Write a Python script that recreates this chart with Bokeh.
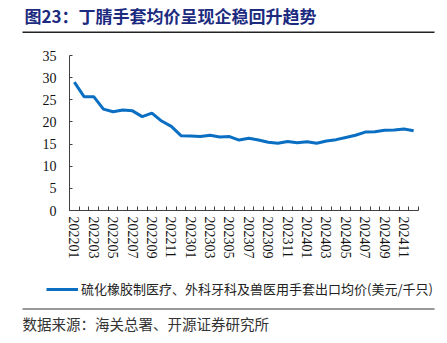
from bokeh.plotting import figure
from bokeh.layouts import column
from bokeh.models import (ColumnDataSource, FixedTicker, Range1d, Legend, LegendItem,
                          BoxAnnotation)
from bokeh.core.properties import value
from bokeh.embed import file_html
from bokeh.resources import INLINE

months = ["202201", "202202", "202203", "202204", "202205", "202206", "202207", "202208",
          "202209", "202210", "202211", "202212", "202301", "202302", "202303", "202304",
          "202305", "202306", "202307", "202308", "202309", "202310", "202311", "202312",
          "202401", "202402", "202403", "202404", "202405", "202406", "202407", "202408",
          "202409", "202410", "202411", "202412"]
price = [29.0, 25.7, 25.7, 22.9, 22.3, 22.7, 22.5, 21.2, 22.0, 20.2, 19.0, 16.9,
         16.8, 16.7, 17.0, 16.6, 16.7, 15.9, 16.3, 15.9, 15.4, 15.2, 15.6, 15.3,
         15.5, 15.2, 15.7, 16.0, 16.5, 17.0, 17.7, 17.8, 18.1, 18.2, 18.4, 18.0]
y_ticks = [0, 5, 10, 15, 20, 25, 30, 35]
series_name = "硫化橡胶制医疗、外科牙科及兽医用手套出口均价(美元/千只)"
title_text = "图23：丁腈手套均价呈现企稳回升趋势"
source_text = "数据来源：海关总署、开源证券研究所"

LINE_COLOR = "#0A6FC2"
serif = "Liberation Serif"
cjk = "Noto Sans CJK SC"
W = 447


def blank_fig(h):
    f = figure(width=W, height=h, output_backend="svg", toolbar_location=None,
               x_range=Range1d(0, W), y_range=Range1d(0, h),
               x_axis_type=None, y_axis_type=None,
               min_border=0, min_border_left=0, min_border_right=0,
               min_border_top=0, min_border_bottom=0, frame_align=False)
    f.outline_line_color = None
    f.grid.visible = False
    return f


def rule(fig, x0, x1, y0, y1, color):
    fig.add_layout(BoxAnnotation(left=x0, right=x1, bottom=y0, top=y1,
                                 fill_color=color, fill_alpha=1.0,
                                 line_color=None, level="overlay"))


# ---------- header (y measured upward from its bottom) ----------
HT = 40
ph = blank_fig(HT)
ph.text(x=[24], y=[HT - 14.5], text=[title_text], text_font=value(cjk), text_font_size="17px",
        text_font_style="bold", text_color="#1C2B80", text_baseline="middle",
        text_align="left")
rule(ph, 22, 434, HT - 32.5, HT - 31, "#222222")

# ---------- main chart ----------
HM = 240
left, right, top, bottom = 69, 418, 55 - HT, 210 - HT
idx = list(range(len(months)))
src = ColumnDataSource(data=dict(x=idx, y=price))

p = figure(width=W, height=HM, output_backend="svg", toolbar_location=None,
           x_range=Range1d(-0.5, len(months) - 0.5), y_range=Range1d(0, 35),
           min_border_left=left, min_border_right=W - right,
           min_border_top=top, min_border_bottom=HM - bottom, frame_align=False)
p.outline_line_color = None
p.grid.visible = False

r = p.line("x", "y", source=src, line_color=LINE_COLOR, line_width=3)

xa = p.xaxis[0]
xa.ticker = FixedTicker(ticks=idx[::2], minor_ticks=[i - 0.5 for i in range(len(months) + 1)])
xa.major_label_overrides = {i: months[i] for i in idx}
xa.major_label_orientation = "vertical"
xa.major_tick_in = 0
xa.major_tick_out = 0
xa.minor_tick_in = 4
xa.minor_tick_out = 0
xa.major_label_standoff = 6
xa.major_label_text_font = serif
xa.major_label_text_font_size = "14px"
xa.major_label_text_color = "#111111"
xa.axis_line_color = "#404040"
xa.minor_tick_line_color = "#404040"

ya = p.yaxis[0]
ya.ticker = FixedTicker(ticks=y_ticks)
ya.minor_tick_line_color = None
ya.major_tick_in = 3
ya.major_tick_out = 0
ya.major_label_standoff = 13
ya.major_label_text_font = serif
ya.major_label_text_font_size = "14px"
ya.major_label_text_color = "#111111"
ya.axis_line_color = "#404040"
ya.major_tick_line_color = "#404040"

# ---------- footer (legend + source), y measured upward from its bottom ----------
HF = 343 - HT - HM
pf = blank_fig(HF)
key = pf.line(x=[float("nan")], y=[float("nan")], line_color=LINE_COLOR, line_width=3)
legend = Legend(items=[LegendItem(label=series_name, renderers=[key])],
                location=(46, HF - 11 - 7), orientation="horizontal",
                glyph_width=32, glyph_height=14, label_standoff=3,
                padding=0, margin=0, border_line_color=None,
                background_fill_alpha=0,
                label_text_font=cjk, label_text_font_size="13px",
                label_text_color="#222222")
pf.add_layout(legend)
rule(pf, 22, 434, HF - 29.5, HF - 27.5, "#999999")
pf.text(x=[22], y=[HF - 43], text=[source_text], text_font=value(cjk),
        text_font_size="14.5px", text_color="#333333", text_baseline="middle",
        text_align="left")

layout = column(ph, p, pf, spacing=0)
open("out.html", "w").write(file_html(layout, INLINE))
